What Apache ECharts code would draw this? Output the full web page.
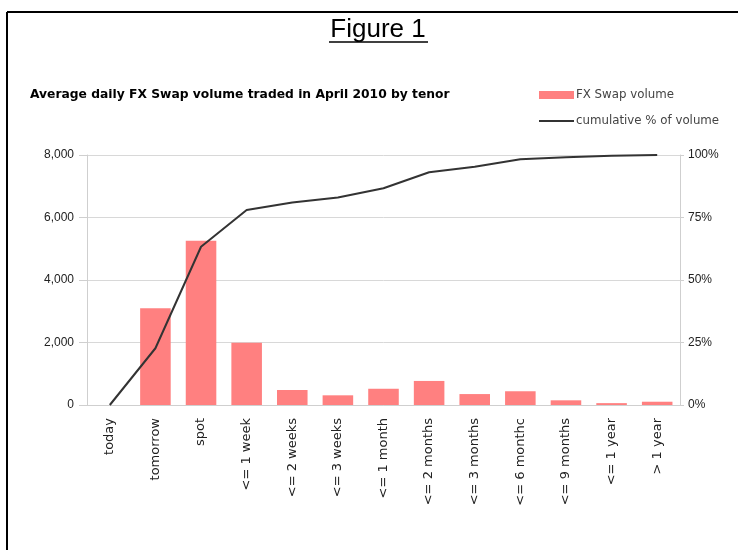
<!DOCTYPE html>
<html lang="en">
<head>
<meta charset="utf-8">
<title>Figure 1</title>
<script src="https://cdn.jsdelivr.net/npm/echarts@6/dist/echarts.min.js"></script>
<style>
    html, body { margin: 0; padding: 0; background: #fff; }
    #main { width: 738px; height: 550px; }
</style>
</head>
<body>
<div id="main"></div>
<script>
    // tenor categories
    var tenors = ['today', 'tomorrow', 'spot', '<= 1 week', '<= 2 weeks', '<= 3 weeks', '<= 1 month',
        '<= 2 months', '<= 3 months', '<= 6 monthc', '<= 9 months', '<= 1 year', '> 1 year'];
    // average daily volume per tenor
    var swapVolume = [0, 3100, 5260, 1990, 480, 310, 520, 770, 350, 440, 150, 60, 105];
    // cumulative % of volume
    var cumulativePct = [0, 22.7, 63.3, 78, 81, 83, 86.7, 93.1, 95.3, 98.3, 99.1, 99.7, 100];
    var leftTicks = [0, 2000, 4000, 6000, 8000];
    var rightTicks = [0, 25, 50, 75, 100];

    var chart = echarts.init(document.getElementById('main'));

    var font = 'Liberation Sans, Arial, sans-serif';
    var wideFont = 'DejaVu Sans, Verdana, sans-serif';

    var option = {
        animation: false,
        backgroundColor: '#fff',
        textStyle: { fontFamily: font },
        graphic: [
            // 外框
            { type: 'line', shape: { x1: 7, y1: 12, x2: 738, y2: 12 }, style: { stroke: '#000', lineWidth: 2 } },
            { type: 'line', shape: { x1: 7, y1: 12, x2: 7, y2: 550 }, style: { stroke: '#000', lineWidth: 2 } },
            { type: 'text', x: 378, y: 17, style: { text: 'Figure 1', font: '26px ' + font, fill: '#000', align: 'center' } },
            { type: 'line', shape: { x1: 329, y1: 42, x2: 428, y2: 42 }, style: { stroke: '#000', lineWidth: 1.5 } },
            { type: 'text', x: 30, y: 89, style: { text: 'Average daily FX Swap volume traded in April 2010 by tenor', font: 'bold 12.3px ' + wideFont, fill: '#000' } }
        ],
        legend: {
            orient: 'vertical',
            left: 539,
            top: 89,
            padding: 0,
            itemGap: 14,
            itemWidth: 35,
            itemHeight: 8,
            textStyle: { fontSize: 11.8, fontFamily: wideFont, color: '#444', padding: [0, 0, 0, -3] },
            data: [
                { name: 'FX Swap volume', icon: 'rect' },
                { name: 'cumulative % of volume', icon: 'path://M0,0L35,0L35,2.2L0,2.2Z', itemStyle: { color: '#333' } }
            ]
        },
        grid: { left: 87, right: 58, top: 155, bottom: 145 },
        xAxis: {
            type: 'category',
            data: tenors,
            axisLine: { lineStyle: { color: '#cfcfcf' } },
            axisTick: { length: 6, lineStyle: { color: '#cfcfcf' } },
            axisLabel: { rotate: 90, interval: 0, fontSize: 13, fontFamily: wideFont, color: '#222', margin: 13 }
        },
        yAxis: [
            {
                type: 'value',
                min: leftTicks[0],
                max: leftTicks[leftTicks.length - 1],
                interval: 2000,
                axisLine: { show: true, lineStyle: { color: '#cfcfcf' } },
                axisTick: { show: true, inside: false, length: 8, lineStyle: { color: '#cfcfcf' } },
                splitLine: { lineStyle: { color: '#d8d8d8' } },
                axisLabel: {
                    fontSize: 12, color: '#222', margin: 13,
                    formatter: function (v) { return v.toLocaleString('en-US'); }
                }
            },
            {
                type: 'value',
                min: rightTicks[0],
                max: rightTicks[rightTicks.length - 1],
                interval: 25,
                axisLine: { show: true, lineStyle: { color: '#cfcfcf' } },
                axisTick: { show: true, length: 4, lineStyle: { color: '#cfcfcf' } },
                splitLine: { show: false },
                axisLabel: { fontSize: 12, color: '#222', margin: 8, formatter: '{value}%' }
            }
        ],
        series: [
            {
                name: 'FX Swap volume',
                type: 'bar',
                data: swapVolume,
                barCategoryGap: '33%',
                itemStyle: { color: '#ff8080' }
            },
            {
                name: 'cumulative % of volume',
                type: 'line',
                yAxisIndex: 1,
                data: cumulativePct,
                symbol: 'none',
                lineStyle: { color: '#333', width: 2 },
                itemStyle: { color: '#333' }
            }
        ]
    };

    chart.setOption(option);
</script>
</body>
</html>
